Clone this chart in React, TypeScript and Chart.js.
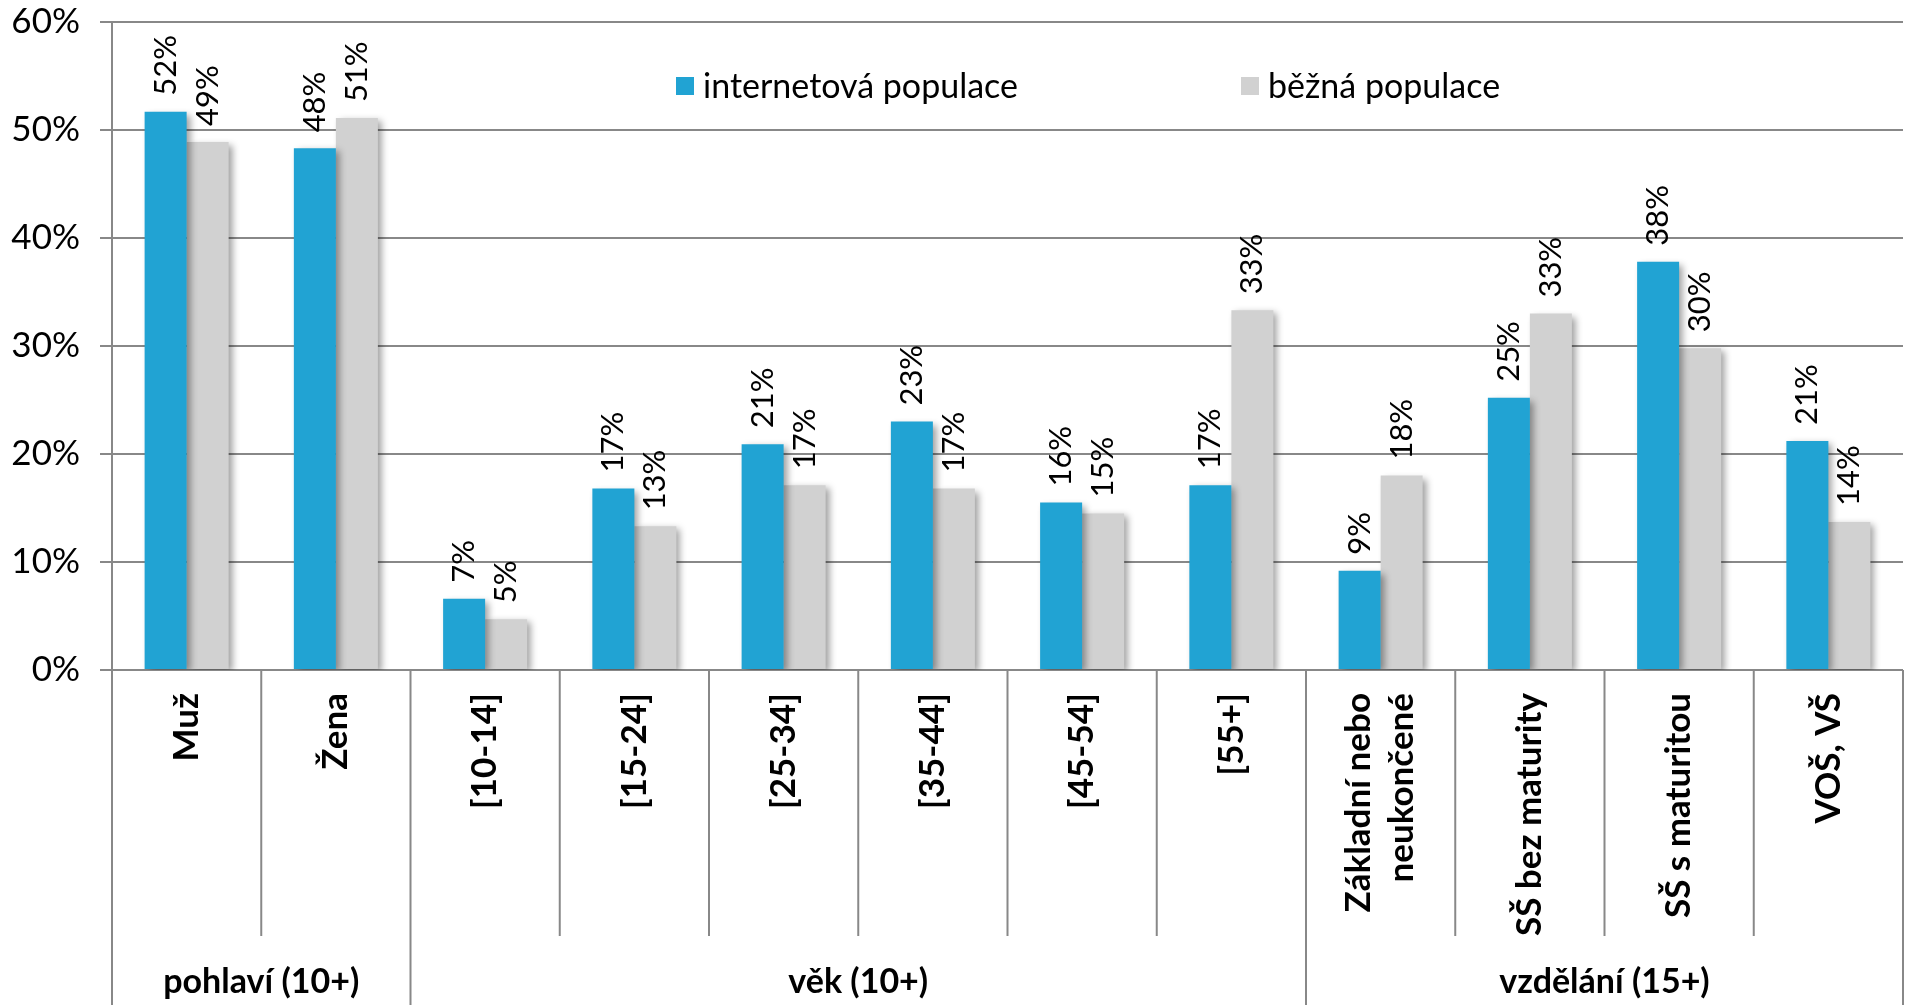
import React, { useEffect, useRef } from 'react';
import { Chart, registerables } from 'chart.js';

Chart.register(...registerables);

const categories: string[][] = [
  ['Muž'],
  ['Žena'],
  ['[10-14]'],
  ['[15-24]'],
  ['[25-34]'],
  ['[35-44]'],
  ['[45-54]'],
  ['[55+]'],
  ['Základní nebo', 'neukončené'],
  ['SŠ bez maturity'],
  ['SŠ s maturitou'],
  ['VOŠ, VŠ'],
];
const seriesNames = ['internetová populace', 'běžná populace'];
const internetPopulation = [51.7, 48.3, 6.6, 16.8, 20.9, 23.0, 15.5, 17.1, 9.2, 25.2, 37.8, 21.2];
const generalPopulation = [48.9, 51.1, 4.7, 13.3, 17.1, 16.8, 14.5, 33.3, 18.0, 33.0, 29.8, 13.7];
const groupLabels = ['pohlaví (10+)', 'věk (10+)', 'vzdělání (15+)'];
const groupStarts = [0, 2, 8];
const groupEnds = [1, 7, 11];
const seriesColors = ['#21A3D3', '#D1D1D1'];

const FONT = 'Lato, "Open Sans", sans-serif';

const overlayPlugin = {
  id: 'overlay',
  beforeDatasetsDraw(chart: any) {
    const c = chart.ctx;
    c.save();
    c.shadowColor = 'rgba(0,0,0,0.38)';
    c.shadowBlur = 7;
    c.shadowOffsetX = 4;
    c.shadowOffsetY = 3;
  },
  afterDatasetsDraw(chart: any) {
    const c = chart.ctx;
    c.restore();
    c.save();
    c.font = `31px ${FONT}`;
    c.fillStyle = '#000';
    c.textAlign = 'left';
    c.textBaseline = 'middle';
    chart.data.datasets.forEach((ds: any, di: number) => {
      const meta = chart.getDatasetMeta(di);
      meta.data.forEach((el: any, i: number) => {
        const v = ds.data[i];
        c.save();
        c.translate(el.x, el.y - 16);
        c.rotate(-Math.PI / 2);
        c.fillText(Math.round(v) + '%', 0, 0);
        c.restore();
      });
    });
    c.restore();
  },
  afterDraw(chart: any) {
    const c = chart.ctx;
    const x = chart.scales.x;
    const area = chart.chartArea;
    const n = categories.length;
    const half = (x.getPixelForValue(1) - x.getPixelForValue(0)) / 2;
    const top = area.bottom;
    const bottom = chart.height;
    const shortBottom = top + 266;
    const boundary = (i: number) => (i < n ? x.getPixelForValue(i) - half : x.getPixelForValue(n - 1) + half);
    const groupBoundaries = new Set<number>([...groupStarts, n]);

    c.save();
    c.strokeStyle = '#888888';
    c.lineWidth = 2;
    for (let i = 0; i <= n; i++) {
      const px = boundary(i);
      c.beginPath();
      c.moveTo(px, top);
      c.lineTo(px, groupBoundaries.has(i) ? bottom : shortBottom);
      c.stroke();
    }

    // category labels
    c.fillStyle = '#000';
    c.font = `bold 35px ${FONT}`;
    c.textAlign = 'right';
    c.textBaseline = 'middle';
    const lineH = 43;
    categories.forEach((lines, i) => {
      const cx = x.getPixelForValue(i);
      lines.forEach((line, li) => {
        const off = (li - (lines.length - 1) / 2) * lineH;
        c.save();
        c.translate(cx + off, top + 23);
        c.rotate(-Math.PI / 2);
        c.fillText(line, 0, 0);
        c.restore();
      });
    });

    // group labels
    c.font = `bold 34px ${FONT}`;
    c.textAlign = 'center';
    groupLabels.forEach((g, gi) => {
      const l = boundary(groupStarts[gi]);
      const r = boundary(groupEnds[gi] + 1);
      c.fillText(g, (l + r) / 2, bottom - 23);
    });

    // legend
    c.font = `34px ${FONT}`;
    c.textAlign = 'left';
    const legendX = [area.left + 564, area.left + 1129];
    seriesNames.forEach((name, si) => {
      c.fillStyle = seriesColors[si];
      c.fillRect(legendX[si], 77, 18, 18);
      c.fillStyle = '#000';
      c.fillText(name, legendX[si] + 27, 87);
    });
    c.restore();
  },
};

export default function App() {
  const ref = useRef<HTMLCanvasElement>(null);
  useEffect(() => {
    if (!ref.current) return;
    Chart.defaults.font.family = FONT;
    const chart = new Chart(ref.current, {
      type: 'bar',
      data: {
        labels: categories.map((c) => c.join(' ')),
        datasets: [
          {
            label: seriesNames[0],
            data: internetPopulation,
            backgroundColor: seriesColors[0],
            categoryPercentage: 0.563,
            barPercentage: 1,
          },
          {
            label: seriesNames[1],
            data: generalPopulation,
            backgroundColor: seriesColors[1],
            categoryPercentage: 0.563,
            barPercentage: 1,
          },
        ],
      },
      options: {
        responsive: false,
        animation: false,
        devicePixelRatio: 1,
        layout: { padding: { top: 22, right: 3, left: 0, bottom: 0 } },
        plugins: { legend: { display: false }, tooltip: { enabled: false } },
        scales: {
          x: {
            ticks: { display: false },
            grid: { display: false },
            border: { display: false },
            afterFit(s: any) {
              s.height = 335;
              s.paddingLeft = 0;
              s.paddingRight = 0;
            },
          },
          y: {
            min: 0,
            max: 60,
            ticks: {
              stepSize: 10,
              callback: (v: any) => v + '%',
              font: { size: 35, family: FONT },
              color: '#000',
              padding: 20,
            },
            grid: { color: '#888888', lineWidth: 2, tickLength: 12 },
            border: { color: '#888888', width: 2 },
            afterFit(s: any) {
              s.width = 112;
              s.paddingTop = 0;
              s.paddingBottom = 0;
            },
          },
        },
      },
      plugins: [overlayPlugin],
    });
    return () => chart.destroy();
  }, []);
  return (
    <div style={{ position: 'fixed', left: 0, top: 0, width: 1906, height: 1005, background: '#fff' }}>
      <canvas ref={ref} width={1906} height={1005} style={{ display: 'block' }} />
    </div>
  );
}
